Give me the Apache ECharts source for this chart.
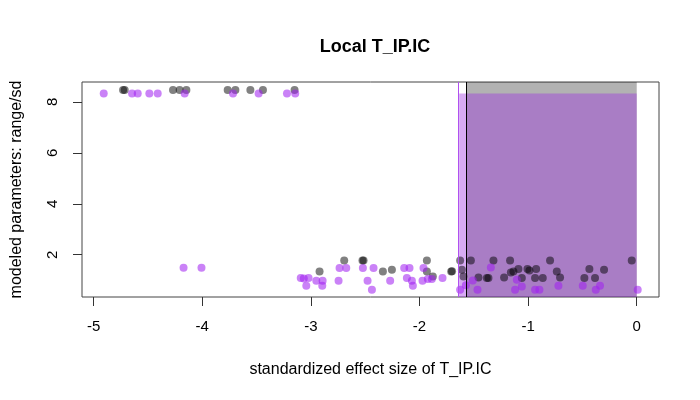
<!DOCTYPE html>
<html>
<head>
<meta charset="utf-8">
<script src="https://cdn.jsdelivr.net/npm/echarts@6/dist/echarts.min.js"></script>
<style>
  html, body { margin: 0; padding: 0; background: #fff; }
  #main { width: 700px; height: 400px; }
</style>
</head>
<body>
<div id="main"></div>
<script>
// points
var blackX = [-4.729, -4.714, -4.269, -4.208, -4.146, -3.766, -3.695, -3.557, -3.441, -3.150,
    -2.920, -2.693, -2.525, -2.515, -2.337, -2.254, -1.932, -1.932, -1.877, -1.708, -1.700,
    -1.626, -1.610, -1.595, -1.527, -1.457, -1.380, -1.365, -1.319, -1.221, -1.166, -1.159,
    -1.135, -1.089, -1.058, -1.006, -0.988, -0.926, -0.936, -0.865, -0.798, -0.736, -0.706,
    -0.482, -0.436, -0.384, -0.301, -0.046];
var blackY = [8.47, 8.47, 8.47, 8.47, 8.47, 8.47, 8.47, 8.47, 8.47, 8.47,
    1.345, 1.776, 1.776, 1.776, 1.345, 1.41, 1.776, 1.345, 1.149, 1.345, 1.35,
    1.776, 1.41, 1.149, 1.776, 1.11, 1.086, 1.086, 1.776, 1.11, 1.776, 1.306,
    1.345, 1.44, 1.086, 1.44, 1.384, 1.44, 1.086, 1.086, 1.776, 1.345, 1.11,
    1.086, 1.44, 1.086, 1.41, 1.776];

var purpleX = [-4.907, -4.646, -4.594, -4.487, -4.410, -4.162, -3.717, -3.481, -3.220, -3.144,
    -4.172, -4.007,
    -3.093, -3.065, -3.021, -3.042, -2.950, -2.892, -2.895, -2.745, -2.736, -2.674, -2.521,
    -2.423, -2.478, -2.438, -2.270, -2.141, -2.092, -2.116, -2.070, -2.061, -1.963, -1.972,
    -1.923, -1.886, -1.788, -1.626, -1.573, -1.509, -1.466, -1.343, -1.104, -1.120, -1.058,
    -0.936, -0.896, -0.721, -0.497, -0.377, -0.338, 0.009];
var purpleY = [8.33, 8.33, 8.33, 8.33, 8.33, 8.33, 8.33, 8.33, 8.33, 8.33,
    1.49, 1.49,
    1.086, 1.07, 1.086, 0.784, 0.98, 0.98, 0.784, 0.98, 1.478, 1.478, 1.478,
    1.478, 0.98, 0.627, 0.98, 1.478, 1.478, 1.086, 0.98, 0.784, 1.478, 0.98,
    1.047, 1.047, 1.086, 0.627, 0.80, 0.992, 0.627, 1.50, 1.02, 0.627, 0.757,
    0.627, 0.627, 0.784, 0.784, 0.627, 0.784, 0.627];

var xTicks = [-5, -4, -3, -2, -1, 0];
var yTicks = [2, 4, 6, 8];

// shaded ranges and cut lines
var blackCut = -1.570, purpleCut = -1.635;
var blackTop = 8.78, purpleTop = 8.33;
var xMin = -5.107, xMax = 0.205, yMin = 0.34, yMax = 8.78;

function pairs(xs, ys) {
    var out = [];
    for (var i = 0; i < xs.length; i++) out.push([xs[i], ys[i]]);
    return out;
}

var font = "'Liberation Sans', Arial, Helvetica, sans-serif";
var chart = echarts.init(document.getElementById('main'), null, { renderer: 'canvas' });

var option = {
    animation: false,
    backgroundColor: '#fff',
    textStyle: { fontFamily: font },
    title: {
        text: 'Local T_IP.IC',
        left: 370,
        top: 33,
        textAlign: 'center',
        textStyle: { fontFamily: font, fontSize: 18, fontWeight: 'bold', color: '#000' }
    },
    grid: {
        left: 82, right: 41, top: 82, bottom: 103,
        show: true, borderColor: '#444', borderWidth: 1,
        outerBoundsMode: 'none'
    },
    xAxis: {
        type: 'value', min: xMin, max: xMax,
        axisLine: { show: false, onZero: false },
        splitLine: { show: false },
        axisTick: { show: true, length: 9, customValues: xTicks, lineStyle: { color: '#333' } },
        axisLabel: { customValues: xTicks, margin: 22, fontSize: 15, color: '#000', fontFamily: font },
        name: 'standardized effect size of T_IP.IC',
        nameLocation: 'middle', nameGap: 65,
        nameTextStyle: { fontSize: 16, color: '#000', fontFamily: font }
    },
    yAxis: {
        type: 'value', min: yMin, max: yMax,
        axisLine: { show: false, onZero: false },
        splitLine: { show: false },
        axisTick: { show: true, length: 9, customValues: yTicks, lineStyle: { color: '#333' } },
        axisLabel: { customValues: yTicks, margin: 22, rotate: 90, fontSize: 15, color: '#000', fontFamily: font },
        name: 'modeled parameters: range/sd',
        nameLocation: 'middle', nameGap: 57,
        nameTextStyle: { fontSize: 16, color: '#000', fontFamily: font }
    },
    series: [
        {
            // shaded areas + cut lines
            type: 'scatter',
            data: [],
            z: 1,
            markArea: {
                silent: true,
                data: [
                    [{ coord: [blackCut, yMin], itemStyle: { color: 'rgba(0,0,0,0.3)' } }, { coord: [0, blackTop] }],
                    [{ coord: [purpleCut, yMin], itemStyle: { color: 'rgba(155,45,225,0.4)' } }, { coord: [0, purpleTop] }]
                ]
            },
            markLine: {
                silent: true,
                symbol: 'none',
                label: { show: false },
                data: [
                    { xAxis: purpleCut, lineStyle: { color: '#B050F0', width: 1, type: 'solid' } },
                    { xAxis: blackCut, lineStyle: { color: '#000', width: 1, type: 'solid' } }
                ]
            }
        },
        {
            type: 'scatter',
            data: pairs(blackX, blackY),
            symbolSize: 8,
            itemStyle: { color: 'rgba(0,0,0,0.62)' },
            z: 3
        },
        {
            type: 'scatter',
            data: pairs(purpleX, purpleY),
            symbolSize: 8,
            itemStyle: { color: 'rgba(160,32,240,0.7)' },
            z: 4
        }
    ]
};
chart.setOption(option);
</script>
</body>
</html>
